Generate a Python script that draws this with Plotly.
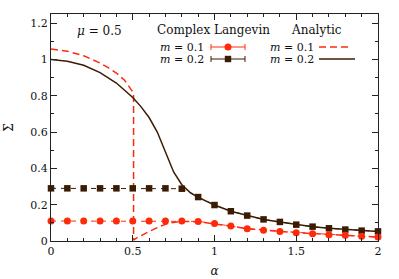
import plotly.graph_objects as go

# ---- data ----
alpha_cl = [0.0, 0.1, 0.2, 0.3, 0.4, 0.5, 0.6, 0.7, 0.8, 0.9, 1.0,
            1.1, 1.2, 1.3, 1.4, 1.5, 1.6, 1.7, 1.8, 1.9, 2.0]
sigma_cl_m01 = [0.110, 0.110, 0.110, 0.110, 0.110, 0.110, 0.110, 0.110, 0.110, 0.108, 0.096,
                0.082, 0.068, 0.059, 0.053, 0.046, 0.040, 0.035, 0.031, 0.026, 0.022]
sigma_cl_m02 = [0.290, 0.290, 0.290, 0.290, 0.290, 0.290, 0.290, 0.290, 0.288, 0.242, 0.198,
                0.164, 0.140, 0.119, 0.105, 0.090, 0.079, 0.070, 0.063, 0.057, 0.053]

alpha_an_m01 = [0.0, 0.1, 0.2, 0.3, 0.35, 0.4, 0.45, 0.48, 0.505, 0.505, 0.52, 0.6, 0.67,
                0.72, 0.8, 0.9, 1.0, 1.1, 1.2, 1.3, 1.4, 1.5, 1.6, 1.7, 1.8, 1.9, 2.0]
sigma_an_m01 = [1.057, 1.045, 1.020, 0.980, 0.955, 0.925, 0.885, 0.850, 0.815, 0.005, 0.015,
                0.052, 0.082, 0.098, 0.108, 0.106, 0.096, 0.082, 0.068, 0.059, 0.053,
                0.046, 0.040, 0.035, 0.031, 0.026, 0.022]

alpha_an_m02 = [0.0, 0.1, 0.2, 0.3, 0.4, 0.5, 0.55, 0.6, 0.65, 0.7, 0.75, 0.8, 0.85, 0.9,
                1.0, 1.1, 1.2, 1.3, 1.4, 1.5, 1.6, 1.7, 1.8, 1.9, 2.0]
sigma_an_m02 = [1.000, 0.990, 0.968, 0.927, 0.870, 0.790, 0.740, 0.680, 0.600, 0.490,
                0.380, 0.310, 0.268, 0.240, 0.198, 0.164, 0.140, 0.119, 0.105, 0.090,
                0.079, 0.070, 0.063, 0.057, 0.053]

x_ticks = [0, 0.5, 1, 1.5, 2]
x_ticklabels = ["0", "0.5", "1", "1.5", "2"]
y_ticks = [0, 0.2, 0.4, 0.6, 0.8, 1.0, 1.2]
y_ticklabels = ["0", "0.2", "0.4", "0.6", "0.8", "1", "1.2"]

RED = "#ff2a0a"
BROWN = "#3a1c04"
FONT = "DejaVu Serif, Liberation Serif, serif"

fig = go.Figure()

fig.add_trace(go.Scatter(x=alpha_an_m01, y=sigma_an_m01, mode="lines",
                         line=dict(color=RED, width=1.5, dash="7px,4px"),
                         cliponaxis=False, showlegend=False))
fig.add_trace(go.Scatter(x=alpha_an_m02, y=sigma_an_m02, mode="lines",
                         line=dict(color=BROWN, width=1.5),
                         cliponaxis=False, showlegend=False))
fig.add_trace(go.Scatter(x=alpha_cl, y=sigma_cl_m02, mode="lines+markers",
                         line=dict(color=BROWN, width=1, dash="5px,5px"),
                         marker=dict(symbol="square", size=6.5, color=BROWN),
                         cliponaxis=False, showlegend=False))
fig.add_trace(go.Scatter(x=alpha_cl, y=sigma_cl_m01, mode="lines+markers",
                         line=dict(color=RED, width=1, dash="5px,5px"),
                         marker=dict(symbol="circle", size=7, color=RED),
                         cliponaxis=False, showlegend=False))

L, R, T, B = 51, 21, 14, 38
W, H = 399, 279
pw, ph = W - L - R, H - T - B


def px(x):
    return (x - L) / pw


def py(y):
    return (H - B - y) / ph


shapes = []
for yy, col in [(47, RED), (59, BROWN)]:
    shapes.append(dict(type="line", xref="paper", yref="paper", x0=px(211), x1=px(245),
                       y0=py(yy), y1=py(yy), line=dict(color=col, width=1)))
    for xc in (211, 245):
        shapes.append(dict(type="line", xref="paper", yref="paper", x0=px(xc), x1=px(xc),
                           y0=py(yy - 3), y1=py(yy + 3), line=dict(color=col, width=1)))
shapes.append(dict(type="circle", xref="paper", yref="paper", x0=px(224.5), x1=px(231.5),
                   y0=py(50.5), y1=py(43.5), fillcolor=RED, line=dict(color=RED, width=0)))
shapes.append(dict(type="rect", xref="paper", yref="paper", x0=px(224.8), x1=px(231.2),
                   y0=py(62.2), y1=py(55.8), fillcolor=BROWN, line=dict(color=BROWN, width=0)))
shapes.append(dict(type="line", xref="paper", yref="paper", x0=px(319), x1=px(352),
                   y0=py(47), y1=py(47), line=dict(color=RED, width=1.5, dash="7px,4px")))
shapes.append(dict(type="line", xref="paper", yref="paper", x0=px(319), x1=px(355),
                   y0=py(59), y1=py(59), line=dict(color=BROWN, width=1.5)))

annotations = [
    dict(text="<i>μ</i> = 0.5", x=px(99), y=py(31), xanchor="center", yanchor="middle", size=12),
    dict(text="Complex Langevin", x=px(213), y=py(30), xanchor="center", yanchor="middle", size=12),
    dict(text="Analytic", x=px(316), y=py(30), xanchor="center", yanchor="middle", size=12),
    dict(text="<i>m</i> = 0.1", x=px(205), y=py(47), xanchor="right", yanchor="middle", size=11),
    dict(text="<i>m</i> = 0.2", x=px(205), y=py(59), xanchor="right", yanchor="middle", size=11),
    dict(text="<i>m</i> = 0.1", x=px(315), y=py(47), xanchor="right", yanchor="middle", size=11),
    dict(text="<i>m</i> = 0.2", x=px(315), y=py(59), xanchor="right", yanchor="middle", size=11),
]
for a in annotations:
    sz = a.pop("size")
    a.update(xref="paper", yref="paper", showarrow=False, borderpad=0,
             font=dict(family=FONT, size=sz, color="#111"))

axis_common = dict(showline=True, linecolor="#222", linewidth=1, mirror="allticks",
                   ticks="inside", ticklen=6, tickcolor="#222", tickwidth=1,
                   showgrid=False, zeroline=False, automargin=False,
                   tickfont=dict(family=FONT, size=11, color="#111"))

fig.update_layout(
    width=W, height=H,
    margin=dict(l=L, r=R, t=T, b=B),
    paper_bgcolor="white", plot_bgcolor="white",
    shapes=shapes, annotations=annotations,
    xaxis=dict(range=[0, 2], tickvals=x_ticks, ticktext=x_ticklabels,
               minor=dict(dtick=0.1, tick0=0, ticks="inside", ticklen=3, tickcolor="#222"),
               title=dict(text="<i>α</i>", font=dict(family=FONT, size=12, color="#111"),
                          standoff=9),
               **axis_common),
    yaxis=dict(range=[0, 1.25], tickvals=y_ticks, ticktext=y_ticklabels,
               minor=dict(dtick=0.1, tick0=0, ticks="inside", ticklen=3, tickcolor="#222"),
               title=dict(text="Σ", font=dict(family=FONT, size=12, color="#111"),
                          standoff=14),
               **axis_common),
)

fig.write_html("out.html", config={"displayModeBar": False},
               post_script="document.body.style.margin='0';document.body.style.padding='0';")
